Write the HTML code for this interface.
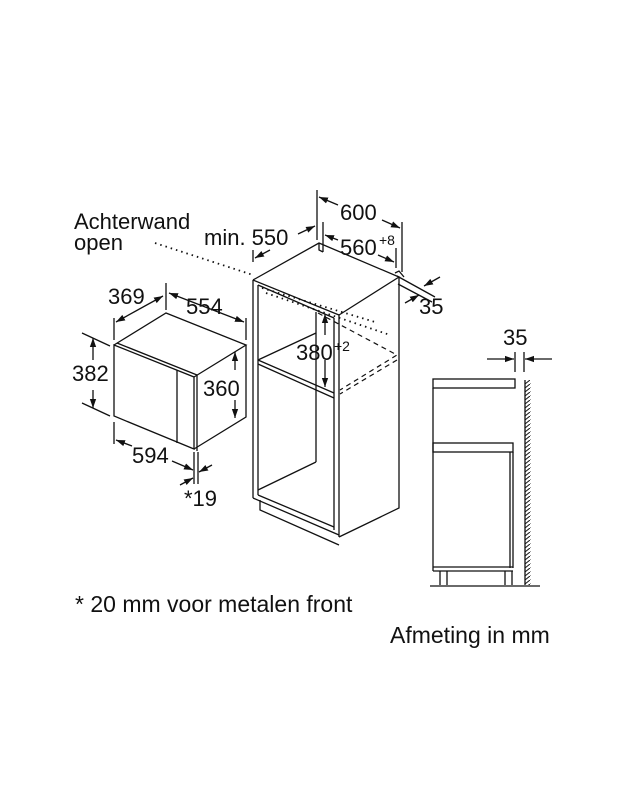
<!DOCTYPE html>
<html><head><meta charset="utf-8"><style>
html,body{margin:0;padding:0;background:#fff}
svg{display:block}
text{font-family:"Liberation Sans",Arial,sans-serif;fill:#111}
</style></head><body>
<svg width="625" height="794" viewBox="0 0 625 794" xmlns="http://www.w3.org/2000/svg">
<defs>
<marker id="a" viewBox="0 0 10 10" refX="10" refY="5" markerWidth="9" markerHeight="9" orient="auto-start-reverse" markerUnits="userSpaceOnUse"><path d="M0,1.5 L10,5 L0,8.5 z" fill="#111"/></marker>
<pattern id="h" width="5" height="4" patternUnits="userSpaceOnUse"><path d="M0,4 L5,0" stroke="#111" stroke-width="1"/></pattern>
</defs>
<g stroke="#111" stroke-width="1.3" fill="none">
<path d="M114,345 L194,377 L194,449 L114,416 Z"/>
<path d="M114,345 L166,313 L246,345 L194,377"/>
<path d="M246,345 L246,417 L194,449"/>
<path d="M117,343 L197,375"/>
<path d="M177,370 L177,443"/>
<path d="M197,375 L197,451"/>
<path d="M114,340 L114,318 M166,310 L166,283 M246,340 L246,318"/>
<path d="M116,322 L163,296" marker-start="url(#a)" marker-end="url(#a)"/>
<path d="M169,293 L244,322" marker-start="url(#a)" marker-end="url(#a)"/>
<path d="M82,333 L110,346 M82,403 L110,416"/>
<path d="M93,360 L93,338" marker-end="url(#a)"/>
<path d="M93,390 L93,408" marker-end="url(#a)"/>
<path d="M235,370 L235,352" marker-end="url(#a)"/>
<path d="M235,400 L235,418" marker-end="url(#a)"/>
<path d="M114,422 L114,444 M194,452 L194,484 M198,452 L198,484"/>
<path d="M116,440 L132,446" marker-start="url(#a)"/>
<path d="M172,461 L193,470" marker-end="url(#a)"/>
<path d="M180,485 L193,478" marker-end="url(#a)"/>
<path d="M212,465 L199,472" marker-end="url(#a)"/>
<path d="M253,280 L319,243 L399,277 L339,315"/>
<path d="M253,280 L339,315 M258,285 L334,318"/>
<path d="M253,280 L253,498 M258,285 L258,495"/>
<path d="M339,315 L339,537 M334,318 L334,530"/>
<path d="M399,277 L399,508 L339,537"/>
<path d="M258,360 L334,393 M258,364 L334,398"/>
<path d="M258,360 L316,333 M316,312 L316,462"/>
<path d="M258,490 L316,462"/>
<path d="M253,498 L339,535 M258,495 L334,527"/>
<path d="M260,500 L260,510 L339,545"/>
<path d="M319,243 L319,250 L323,252"/>
<path d="M395,273 L399,271 L404,277"/>
<g stroke-dasharray="5,4" stroke-width="1.2">
<path d="M318,313 L397,355 L340,390 M397,360 L340,394"/>
</g>
<g stroke-dasharray="1.5,4" stroke-width="1.8">
<path d="M155,243 L253,275 M262,288 L375,322 M266,293 L390,335"/>
</g>
<path d="M317,190 L317,240 M402,222 L402,272 M323,222 L323,252 M396,248 L396,268"/>
<path d="M319,197 L338,205" marker-start="url(#a)"/>
<path d="M382,220 L400,228" marker-end="url(#a)"/>
<path d="M325,235 L338,240" marker-start="url(#a)"/>
<path d="M378,255 L394,262" marker-end="url(#a)"/>
<path d="M253,250 L253,262"/>
<path d="M255,258 L270,250" marker-start="url(#a)"/>
<path d="M298,234 L315,226" marker-end="url(#a)"/>
<path d="M397,276 L435,297 M398,284 L432,302"/>
<path d="M440,277 L424,286" marker-end="url(#a)"/>
<path d="M405,303 L419,295" marker-end="url(#a)"/>
<path d="M325,335 L325,314" marker-end="url(#a)"/>
<path d="M325,360 L325,387" marker-end="url(#a)"/>
<rect x="433" y="379" width="82" height="9"/>
<path d="M433,388 L433,571"/>
<rect x="433" y="443" width="80" height="9"/>
<path d="M513,452 L513,568 M510,452 L510,568"/>
<path d="M433,567 L513,567 M433,571 L513,571"/>
<path d="M440,571 L440,585 M447,571 L447,585 M505,571 L505,585 M512,571 L512,585"/>
<path d="M430,586 L540,586"/>
<path d="M525,380 L525,585"/>
<path d="M515,352 L515,372 M524,352 L524,372"/>
<path d="M487,359 L514,359" marker-end="url(#a)"/>
<path d="M552,359 L525,359" marker-end="url(#a)"/>
</g>
<rect x="525.5" y="380" width="5" height="205" fill="url(#h)"/>
<g font-size="22">
<text x="74" y="229">Achterwand</text>
<text x="74" y="250">open</text>
<text x="204" y="245">min. 550</text>
<text x="340" y="220">600</text>
<text x="340" y="255">560</text><text x="379" y="245" font-size="14">+8</text>
<text x="419" y="314">35</text>
<text x="108" y="304">369</text>
<text x="186" y="314">554</text>
<text x="72" y="381">382</text>
<text x="203" y="396">360</text>
<text x="132" y="463">594</text>
<text x="184" y="506">*19</text>
<text x="296" y="360">380</text><text x="334" y="351" font-size="14">+2</text>
<text x="503" y="345">35</text>
</g>
<g font-size="23">
<text x="75" y="612">* 20 mm voor metalen front</text>
<text x="390" y="643">Afmeting in mm</text>
</g>
</svg>
</body></html>
